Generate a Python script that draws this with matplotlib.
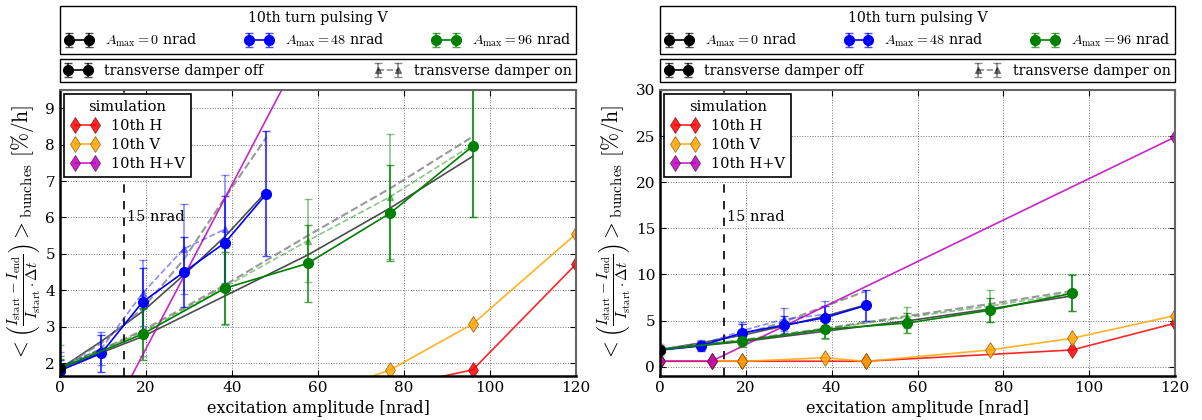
import matplotlib
matplotlib.use("Agg")
import matplotlib.pyplot as plt
from matplotlib.transforms import blended_transform_factory

plt.rcParams["font.family"] = "DejaVu Serif"
plt.rcParams["mathtext.fontset"] = "cm"

# --- measured data (excitation amplitude in nrad, loss rate in %/h) ---
blk_off_x = [0]
blk_off_y = [1.86]
blk_off_e = [0.08]
blk_on_x = [0]
blk_on_y = [1.9]
blk_on_e = [0.3]

blue_off_x = [0, 9.6, 19.2, 28.8, 38.4, 48]
blue_off_y = [1.8, 2.27, 3.68, 4.5, 5.31, 6.65]
blue_off_e = [0.3, 0.51, 0.94, 0.97, 1.29, 1.72]
blue_on_x = [0, 9.6, 19.2, 28.8, 38.4]
blue_on_y = [1.9, 2.4, 3.92, 5.14, 5.68]
blue_on_e = [0.4, 0.45, 0.9, 1.23, 1.49]

green_off_x = [0, 19.2, 38.4, 57.6, 76.8, 96]
green_off_y = [1.86, 2.8, 4.06, 4.74, 6.12, 7.96]
green_off_e = [0.25, 0.71, 0.98, 1.05, 1.32, 1.96]
green_on_x = [0, 19.2, 38.4, 57.6, 76.8, 96]
green_on_y = [1.9, 2.85, 4.1, 5.36, 6.57, 8.0]
green_on_e = [0.6, 0.65, 1.05, 1.14, 1.72, 2.0]

# fitted curves
fit48_x = [0, 9.6, 19.2, 28.8, 38.4, 48]
fit48_off = [1.85, 2.6, 3.42, 4.42, 5.48, 6.71]
fit48_on = [1.85, 2.55, 3.5, 4.85, 6.55, 8.2]
fit96_x = [0, 19.2, 38.4, 57.6, 76.8, 96]
fit96_off = [1.85, 2.73, 3.85, 4.97, 6.26, 7.68]
fit96_on = [1.85, 2.9, 4.15, 5.5, 6.8, 8.22]

# simulation
sim_h_x = [0, 12, 19.2, 48, 96, 120]
sim_h_y = [0.6, 0.6, 0.6, 0.6, 1.82, 4.72]
sim_v_x = [0, 12, 19.2, 38.4, 48, 76.8, 96, 120]
sim_v_y = [0.6, 0.6, 0.58, 0.98, 0.58, 1.82, 3.08, 5.55]
sim_hv_x = [0, 12, 120]
sim_hv_y = [0.6, 0.6, 24.9]

ylims = [(1.65, 9.5), (-1, 30)]
yticks = [[2, 3, 4, 5, 6, 7, 8, 9], [0, 5, 10, 15, 20, 25, 30]]
ylabel = (r"$<\left(\frac{I_{\rm start}-I_{\rm end}}{I_{\rm start}\cdot\Delta t}\right)"
          r">_{\rm bunches}\ [\%/{\rm h}]$")

fig = plt.figure(figsize=(12.02, 4.2), dpi=100)
axes = [fig.add_axes([0.0499, 0.1048, 0.4293, 0.681]),
        fig.add_axes([0.5491, 0.1048, 0.4285, 0.681])]


def meas(ax, x, y, e, c, on=False):
    if on:
        return ax.errorbar(x, y, yerr=e, fmt="^--", color=c, ms=5, lw=1.2,
                           capsize=3, alpha=0.45)
    cont = ax.errorbar(x, y, yerr=e, fmt="o-", color=c, ms=7, lw=1.2,
                       capsize=3, elinewidth=1.5, mec=c)
    for art in cont.lines[1] + cont.lines[2]:
        art.set_alpha(0.7)
    return cont


for ax, yl, yt in zip(axes, ylims, yticks):
    ax.plot(fit48_x, fit48_off, color="k", lw=1.2, alpha=0.7)
    ax.plot(fit96_x, fit96_off, color="k", lw=1.2, alpha=0.7)
    ax.plot(fit48_x, fit48_on, color="gray", ls="--", lw=1.5, alpha=0.8)
    ax.plot(fit96_x, fit96_on, color="gray", ls="--", lw=1.5, alpha=0.8)

    b_on = meas(ax, blue_on_x, blue_on_y, blue_on_e, "b", True)
    g_on = meas(ax, green_on_x, green_on_y, green_on_e, "g", True)
    k_on = meas(ax, blk_on_x, blk_on_y, blk_on_e, "k", True)
    b_off = meas(ax, blue_off_x, blue_off_y, blue_off_e, "b")
    g_off = meas(ax, green_off_x, green_off_y, green_off_e, "g")
    k_off = meas(ax, blk_off_x, blk_off_y, blk_off_e, "k")

    s_h, = ax.plot(sim_h_x, sim_h_y, "d-", color="red", ms=8, lw=1.2, mec="#800000", mew=0.5)
    s_v, = ax.plot(sim_v_x, sim_v_y, "d-", color="orange", ms=8, lw=1.2, mec="#805000", mew=0.5)
    s_hv, = ax.plot(sim_hv_x, sim_hv_y, "d-", color="m", ms=8, lw=1.2, mec="#500050", mew=0.5)
    for ln in (s_h, s_v, s_hv):
        ln.set_alpha(0.85)

    ax.axvline(15, color="k", ls=(0, (5, 5)), lw=1.2)
    ax.text(15.6, 0.555, "15 nrad", fontsize=10.5, va="center",
            transform=blended_transform_factory(ax.transData, ax.transAxes))

    ax.set_xlim(0, 120)
    ax.set_ylim(*yl)
    ax.set_xticks([0, 20, 40, 60, 80, 100, 120])
    ax.set_yticks(yt)
    ax.tick_params(direction="in", top=True, right=True, labelsize=11, length=4)
    ax.grid(True, ls=":", color="k", lw=0.7, alpha=0.55)
    ax.set_xlabel("excitation amplitude [nrad]", fontsize=11.5)
    ax.set_ylabel(ylabel, fontsize=15.5, labelpad=2)
    for side in ("left", "bottom"):
        ax.spines[side].set_linewidth(1.8)
        ax.spines[side].set_color("k")
    for side in ("top", "right"):
        ax.spines[side].set_linewidth(1.5)
        ax.spines[side].set_color("#666666")

    leg_sim = ax.legend([s_h, s_v, s_hv], ["10th H", "10th V", "10th H+V"],
                        title="simulation", loc="upper left", numpoints=2,
                        fontsize=10.5, title_fontsize=10.5, fancybox=False,
                        edgecolor="k", framealpha=1, borderaxespad=0.3,
                        handlelength=2.0, borderpad=0.4, labelspacing=0.35)
    leg_sim.get_frame().set_linewidth(1.2)
    ax.add_artist(leg_sim)

    leg_a = ax.legend([k_off, b_off, g_off],
                      [r"$A_{\rm max}=0$ nrad", r"$A_{\rm max}=48$ nrad", r"$A_{\rm max}=96$ nrad"],
                      title="10th turn pulsing V", loc="lower left", ncol=3, mode="expand",
                      bbox_to_anchor=(0, 1.125, 1, 0), borderaxespad=0, numpoints=2,
                      fontsize=10.2, title_fontsize=10.2, fancybox=False, edgecolor="k",
                      framealpha=1, handlelength=2.0, borderpad=0.35)
    leg_a.get_frame().set_linewidth(1.0)
    ax.add_artist(leg_a)

    leg_d = ax.legend([k_off, k_on], ["transverse damper off", "transverse damper on"],
                      loc="lower left", ncol=2, mode="expand",
                      bbox_to_anchor=(0, 1.028, 1, 0), borderaxespad=0, numpoints=2,
                      fontsize=10.2, fancybox=False, edgecolor="k", framealpha=1,
                      handlelength=2.0, borderpad=0.3)
    leg_d.get_frame().set_linewidth(1.0)

fig.savefig("out.png", dpi=100)
